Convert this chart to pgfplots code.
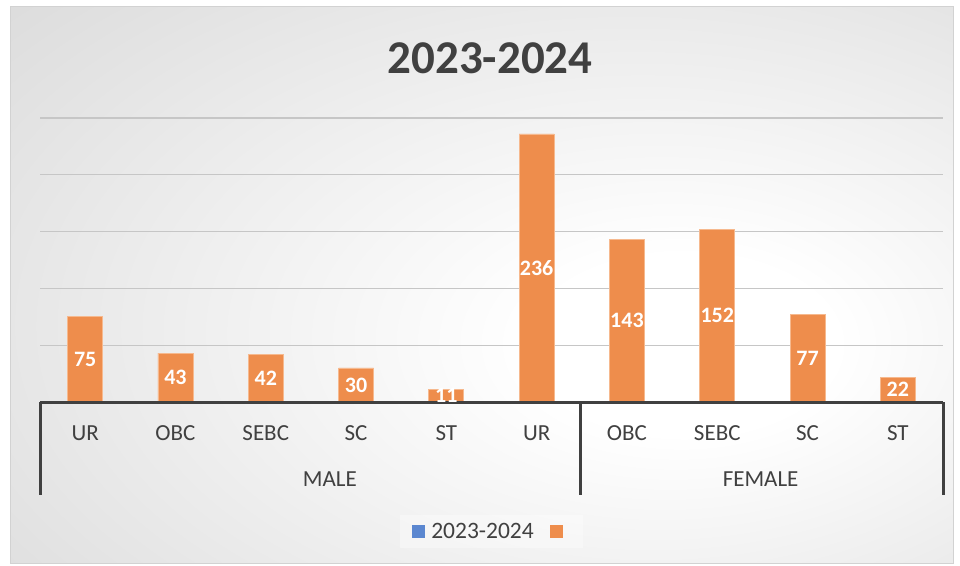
\documentclass[border=0pt]{standalone}
\usepackage{fontspec}
\setmainfont{Carlito}
\usepackage{pgfplots}
\pgfplotsset{compat=1.18}
\definecolor{txt}{HTML}{404040}
\definecolor{barc}{HTML}{EE8D4C}
\definecolor{bared}{HTML}{F6B98E}
\definecolor{legblue}{HTML}{5B87D0}
\definecolor{gridc}{HTML}{C6C6C6}
\definecolor{bgmid}{HTML}{D2D2D2}
\definecolor{bgout}{HTML}{C2C2C2}
\pgfdeclareradialshading{chartbg}{\pgfpoint{12bp}{-6bp}}{color(0bp)=(white); color(8bp)=(white); color(52bp)=(bgmid); color(80bp)=(bgout)}
\begin{document}
\begin{tikzpicture}[x=1pt,y=1pt]
\useasboundingbox (0,0) rectangle (960,565);
\fill[white] (0,0) rectangle (960,565);
\shade[shading=chartbg] (10,2) rectangle (953,558);
\draw[color=gray!35, line width=1pt] (10,2) rectangle (953,558);
\node[text=txt, font=\fontsize{47}{56}\selectfont\bfseries] at (490,507) {2023-2024};
\begin{axis}[
  at={(40pt,163pt)}, anchor=south west, scale only axis,
  width=903pt, height=284pt,
  xmin=-0.5, xmax=9.5, ymin=0, ymax=250,
  clip=false,
  /pgf/number format/assume math mode=true,
  axis line style={draw=none},
  ytick={50,100,150,200,250}, yticklabels={}, ytick style={draw=none},
  ymajorgrids, major grid style={gridc, line width=1.2pt},
  xtick={0,...,9},
  xticklabels={UR,OBC,SEBC,SC,ST,UR,OBC,SEBC,SC,ST},
  xtick style={draw=none},
  xticklabel style={anchor=center, yshift=-31pt, text=txt, font=\fontsize{23}{27}\selectfont},
  legend columns=2,
  legend style={at={(0.5,-0.456)}, anchor=center, draw=none, fill=white, fill opacity=0.35, text opacity=1,
    text=txt, font=\fontsize{23.5}{27}\selectfont, inner xsep=12pt, inner ysep=6pt,
    /tikz/every even column/.append style={column sep=14pt}},
  legend image code/.code={\fill[#1, draw=none, fill opacity=1] (0pt,-6.5pt) rectangle (13pt,6.5pt); \path (17pt,0pt);},
]
\addlegendimage{fill=legblue}
\addlegendentry{2023-2024}
\addlegendimage{fill=barc}
\addlegendentry{}
\addplot[ybar, bar width=35pt, fill=barc, draw=bared, line width=0.8pt, forget plot,
  nodes near coords,
  visualization depends on=y \as \rawy,
  every node near coord/.append style={anchor=center, shift={(axis direction cs:0,-\rawy/2)}, text=white, font=\fontsize{22}{26}\selectfont\bfseries}]
  coordinates {(0,75) (1,43) (2,42) (3,30) (4,11) (5,236) (6,143) (7,152) (8,77) (9,22)};
\draw[txt, line width=3pt] (axis cs:-0.5,0) -- (axis cs:9.5,0);
\draw[txt, line width=3pt] (axis cs:-0.5,0) -- ([yshift=-93pt]axis cs:-0.5,0);
\draw[txt, line width=3pt] (axis cs:5.48,0) -- ([yshift=-93pt]axis cs:5.48,0);
\draw[txt, line width=3pt] (axis cs:9.5,0) -- ([yshift=-93pt]axis cs:9.5,0);
\node[text=txt, font=\fontsize{23}{27}\selectfont] at (axis cs:2.71,0) [yshift=-77pt] {MALE};
\node[text=txt, font=\fontsize{23}{27}\selectfont] at (axis cs:7.48,0) [yshift=-77pt] {FEMALE};
\end{axis}
\end{tikzpicture}
\end{document}
